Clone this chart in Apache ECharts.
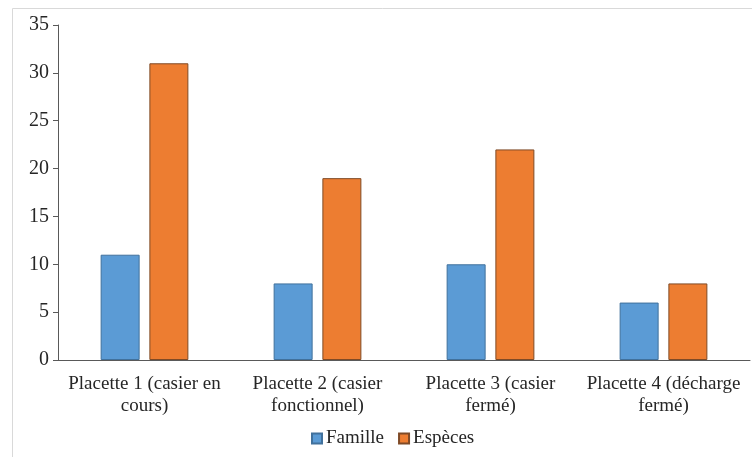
<!DOCTYPE html>
<html>
<head>
<meta charset="utf-8">
<script src="https://cdn.jsdelivr.net/npm/echarts@6/dist/echarts.min.js"></script>
<style>
  html, body { margin: 0; padding: 0; background: #fff; }
  #chart { width: 752px; height: 457px; }
</style>
</head>
<body>
<div id="chart"></div>
<script>
// Nombre de familles et d'espèces recensées par placette
const categories = [
  'Placette 1 (casier en\ncours)',
  'Placette 2 (casier\nfonctionnel)',
  'Placette 3 (casier\nfermé)',
  'Placette 4 (décharge\nfermé)'
];
const famille = [11, 8, 10, 6];
const especes = [31, 19, 22, 8];
const seriesNames = ['Famille', 'Espèces'];

const fontFamily = '"Liberation Serif", "DejaVu Serif", serif';
const textColor = '#262626';

const chart = echarts.init(document.getElementById('chart'));
chart.setOption({
  animation: false,
  textStyle: { fontFamily: fontFamily },
  graphic: [{
    type: 'rect',
    left: 10, top: 6,
    shape: { width: 750, height: 460 },
    style: { fill: 'none', stroke: '#d9d9d9', lineWidth: 1 },
    silent: true
  }],
  grid: { left: 58, right: 2, top: 25, bottom: 97 },
  legend: {
    bottom: 4,
    left: 306,
    icon: 'rect',
    itemWidth: 10,
    itemHeight: 10,
    itemGap: 14,
    textStyle: { fontFamily: fontFamily, fontSize: 19, color: textColor, padding: [0, 0, 0, -1] },
    data: seriesNames
  },
  xAxis: {
    type: 'category',
    data: categories,
    axisLine: { lineStyle: { color: '#595959', width: 1 } },
    axisTick: { show: false },
    axisLabel: {
      fontFamily: fontFamily, fontSize: 19, color: textColor,
      lineHeight: 22, margin: 13, interval: 0
    }
  },
  yAxis: {
    type: 'value',
    min: 0, max: 35, interval: 5,
    splitLine: { show: false },
    axisLine: { show: true, lineStyle: { color: '#595959', width: 1 } },
    axisTick: { show: true, length: 5, lineStyle: { color: '#595959' } },
    axisLabel: { fontFamily: fontFamily, fontSize: 20, color: textColor, margin: 9 }
  },
  series: [
    {
      name: seriesNames[0], type: 'bar', data: famille,
      barWidth: 39, barGap: '25%',
      itemStyle: { color: '#5b9bd5', borderColor: '#41719c', borderWidth: 1 }
    },
    {
      name: seriesNames[1], type: 'bar', data: especes,
      barWidth: 39,
      itemStyle: { color: '#ed7d31', borderColor: '#7f4a26', borderWidth: 1 }
    }
  ]
});
</script>
</body>
</html>
